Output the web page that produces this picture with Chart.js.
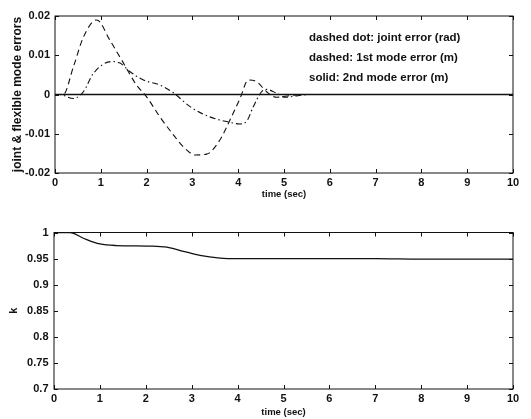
<!DOCTYPE html>
<html>
<head>
<meta charset="utf-8">
<script src="https://cdn.jsdelivr.net/npm/chart.js@4.4.1/dist/chart.umd.min.js"></script>
<style>
  html, body { margin: 0; padding: 0; background: #fff; }
  #wrap { position: relative; width: 531px; height: 419px; }
  canvas { position: absolute; left: 0; }
  #errChart { top: 0; }
  #kChart { top: 210px; }
</style>
</head>
<body>
<div id="wrap">
  <canvas id="errChart" width="531" height="205"></canvas>
  <canvas id="kChart" width="531" height="209"></canvas>
</div>
<script>
// ---- data ----
const timeTicks = [0, 1, 2, 3, 4, 5, 6, 7, 8, 9, 10];
const errTicks = [-0.02, -0.01, 0, 0.01, 0.02];
const kTicks = [0.7, 0.75, 0.8, 0.85, 0.9, 0.95, 1];

// dashed dot: joint error (rad)
const jointTime = [0, 0.1, 0.4, 0.62, 0.84, 1.24, 1.42, 1.64, 1.93, 2.29, 2.58, 2.95, 3.38, 3.75, 4.04, 4.18, 4.33, 4.51, 4.62, 4.84, 5.02, 5.3, 5.6, 6, 10];
const jointErr = [0, 0, -0.001, 0.0007, 0.0054, 0.0084, 0.008, 0.0058, 0.0037, 0.0024, 0.0005, -0.0031, -0.0057, -0.0069, -0.0075, -0.0069, -0.0031, 0.0007, 0.0013, 0.0003, -0.0007, -0.0003, 0, 0, 0];

// dashed: 1st mode error (m)
const mode1Time = [0, 0.18, 0.4, 0.62, 0.91, 1.2, 1.46, 1.78, 2.0, 2.29, 2.62, 2.8, 3.06, 3.31, 3.6, 3.82, 4.04, 4.22, 4.4, 4.62, 4.84, 5.06, 5.4, 6, 7, 8, 9, 10];
const mode1Err = [0, 0, 0.007, 0.0146, 0.019, 0.0138, 0.0087, 0.0024, -0.0006, -0.0057, -0.0108, -0.0133, -0.0154, -0.0152, -0.0116, -0.0065, -0.001, 0.0037, 0.0033, 0.0007, -0.0007, -0.0004, 0, 0, 0, 0, 0, 0];

// solid: 2nd mode error (m)
const mode2Time = [0, 1, 2, 3, 4, 5, 6, 7, 8, 9, 10];
const mode2Err = [0, 0, 0, 0, 0, 0, 0, 0, 0, 0, 0];

// k
const kTime = [0, 0.35, 0.64, 1.0, 1.36, 2.09, 2.46, 2.82, 3.18, 3.62, 4, 5, 6, 7, 8, 9, 10];
const kVal = [1, 1, 0.989, 0.978, 0.975, 0.974, 0.972, 0.964, 0.956, 0.951, 0.95, 0.95, 0.95, 0.95, 0.949, 0.949, 0.949];

const legendLines = [
  "dashed dot: joint error (rad)",
  "dashed: 1st mode error (m)",
  "solid: 2nd mode error (m)",
];

const FONT = "'Liberation Sans', Arial, Helvetica, sans-serif";
const INK = "#111";

function pts(xs, ys) {
  return xs.map((x, i) => ({ x: x, y: ys[i] }));
}

function fmt(v) {
  return String(+Number(v).toFixed(3));
}

/* frame, inward ticks (matlab style) and the text legend */
const boxPlugin = {
  id: "box",
  afterDatasetsDraw(chart, args, opts) {
    const { ctx, chartArea: a, scales } = chart;
    ctx.save();
    ctx.strokeStyle = INK;
    ctx.lineWidth = 1;
    ctx.strokeRect(a.left, a.top, a.right - a.left, a.bottom - a.top);
    ctx.beginPath();
    scales.x.ticks.forEach((t) => {
      const px = Math.round(scales.x.getPixelForValue(t.value)) + 0.5;
      ctx.moveTo(px, a.bottom);
      ctx.lineTo(px, a.bottom - 4);
      ctx.moveTo(px, a.top);
      ctx.lineTo(px, a.top + 4);
    });
    scales.y.ticks.forEach((t) => {
      const py = Math.round(scales.y.getPixelForValue(t.value)) + 0.5;
      ctx.moveTo(a.left, py);
      ctx.lineTo(a.left + 4, py);
      ctx.moveTo(a.right, py);
      ctx.lineTo(a.right - 4, py);
    });
    ctx.stroke();
    if (opts.lines) {
      ctx.fillStyle = INK;
      ctx.font = "bold 11.5px " + FONT;
      ctx.textBaseline = "alphabetic";
      opts.lines.forEach((s, i) => {
        ctx.fillText(s, a.left + opts.dx, a.top + opts.dy + i * opts.gap);
      });
    }
    ctx.restore();
  },
};

function axes(yMin, yMax, yTicks, yTitle, yTitleSize, yTitlePad, yWidth, xHeight, xTitlePad, yLabelPad) {
  return {
    x: {
      type: "linear",
      min: 0,
      max: 10,
      afterBuildTicks: (s) => { s.ticks = timeTicks.map((v) => ({ value: v })); },
      afterFit: (s) => { s.height = xHeight; },
      grid: { display: false, drawTicks: false },
      border: { display: false },
      ticks: { color: INK, padding: 3, font: { family: FONT, size: 11, weight: "bold" }, callback: fmt, maxRotation: 0 },
      title: { display: true, text: "time (sec)", color: INK, padding: { top: 0, bottom: xTitlePad }, font: { family: FONT, size: 9.5, weight: "bold" } },
    },
    y: {
      type: "linear",
      min: yMin,
      max: yMax,
      afterBuildTicks: (s) => { s.ticks = yTicks.map((v) => ({ value: v })); },
      afterFit: (s) => { s.width = yWidth; },
      grid: { display: false, drawTicks: false },
      border: { display: false },
      ticks: { color: INK, padding: yLabelPad, font: { family: FONT, size: 11, weight: "bold" }, callback: fmt },
      title: { display: true, text: yTitle, color: INK, padding: { top: yTitlePad, bottom: 0 }, font: { family: FONT, size: yTitleSize, weight: "bold" } },
    },
  };
}

const lineStyle = {
  pointRadius: 0,
  borderColor: INK,
  borderWidth: 1.1,
  fill: false,
  cubicInterpolationMode: "monotone",
};

new Chart(document.getElementById("errChart").getContext("2d"), {
  type: "line",
  data: {
    datasets: [
      Object.assign({ label: "2nd mode error", data: pts(mode2Time, mode2Err) }, lineStyle, { borderWidth: 1.3 }),
      Object.assign({ label: "1st mode error", data: pts(mode1Time, mode1Err), borderDash: [6, 4] }, lineStyle),
      Object.assign({ label: "joint error", data: pts(jointTime, jointErr), borderDash: [6, 3, 1.5, 3] }, lineStyle),
    ],
  },
  options: {
    responsive: false,
    animation: false,
    layout: { padding: { top: 16, right: 18, left: 0, bottom: 0 } },
    plugins: {
      legend: { display: false },
      tooltip: { enabled: false },
      box: { lines: legendLines, dx: 254, dy: 24.5, gap: 20 },
    },
    scales: axes(-0.02, 0.02, errTicks, "joint & flexible mode errors", 12, 10, 55, 32, 5, 5),
  },
  plugins: [boxPlugin],
});

new Chart(document.getElementById("kChart").getContext("2d"), {
  type: "line",
  data: {
    datasets: [
      Object.assign({ label: "k", data: pts(kTime, kVal) }, lineStyle, { borderWidth: 1.3 }),
    ],
  },
  options: {
    responsive: false,
    animation: false,
    layout: { padding: { top: 22.5, right: 18, left: 0, bottom: 0 } },
    plugins: {
      legend: { display: false },
      tooltip: { enabled: false },
      box: {},
    },
    scales: axes(0.7, 1, kTicks, "k", 11, 7.5, 54, 30, 1.3, 5.5),
  },
  plugins: [boxPlugin],
});
</script>
</body>
</html>
